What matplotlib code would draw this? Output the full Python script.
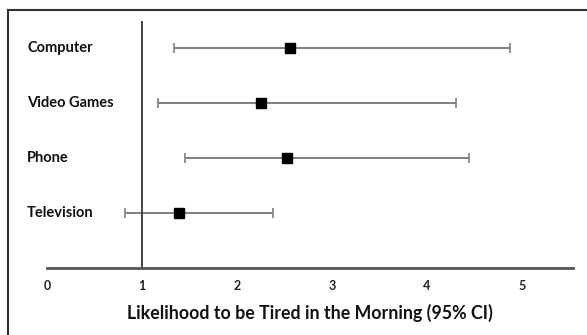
import matplotlib.pyplot as plt
import matplotlib.transforms as mtransforms
from matplotlib.lines import Line2D

# Odds ratios with 95% CI
categories = ["Computer", "Video Games", "Phone", "Television"]
estimates = [2.56, 2.25, 2.53, 1.39]
lower = [1.34, 1.17, 1.45, 0.82]
upper = [4.88, 4.31, 4.44, 2.38]
ticks = [0, 1, 2, 3, 4, 5]

W, H = 587, 335
fig = plt.figure(figsize=(W / 100, H / 100), dpi=100)
ax = fig.add_axes([47 / W, (H - 268) / H, 526 / W, 247 / H])

ypos = list(range(len(categories), 0, -1))
err = [[e - l for e, l in zip(estimates, lower)],
       [u - e for e, u in zip(estimates, upper)]]
ax.errorbar(estimates, ypos, xerr=err, fmt="s", color="black", ms=7,
            ecolor="#7f7f7f", elinewidth=1.4, capsize=3.5, capthick=1.2)

ax.axvline(1, ymin=0, ymax=1, color="#444444", lw=1.4)

ax.set_xlim(0, 5.54)
ax.set_ylim(0, 4.5)
for s in ["top", "right", "left"]:
    ax.spines[s].set_visible(False)
ax.spines["bottom"].set_color("#555555")
ax.spines["bottom"].set_linewidth(2)
ax.set_yticks([])
ax.set_xticks(ticks)
ax.tick_params(axis="x", length=0, pad=9, labelsize=9, labelcolor="#222222")
for lab in ax.get_xticklabels():
    lab.set_fontfamily("Lato")
    lab.set_fontweight("bold")
ax.set_xlabel("Likelihood to be Tired in the Morning (95% CI)", fontsize=12.8,
              fontfamily="Lato", fontweight="bold", color="#111111", labelpad=8)

trans = mtransforms.blended_transform_factory(fig.transFigure, ax.transData)
for y, name in zip(ypos, categories):
    ax.text(27 / W, y, name, transform=trans, ha="left", va="center",
            fontsize=10.5, fontfamily="Lato", fontweight="bold", color="#111111")

# outer frame (cropped at right and bottom)
fig.add_artist(Line2D([8 / W, 8 / W], [0, 1 - 10 / H], color="#333333", lw=1.5))
fig.add_artist(Line2D([8 / W, 1], [1 - 10 / H, 1 - 10 / H], color="#333333", lw=1.5))

fig.savefig("out.png", dpi=100)
